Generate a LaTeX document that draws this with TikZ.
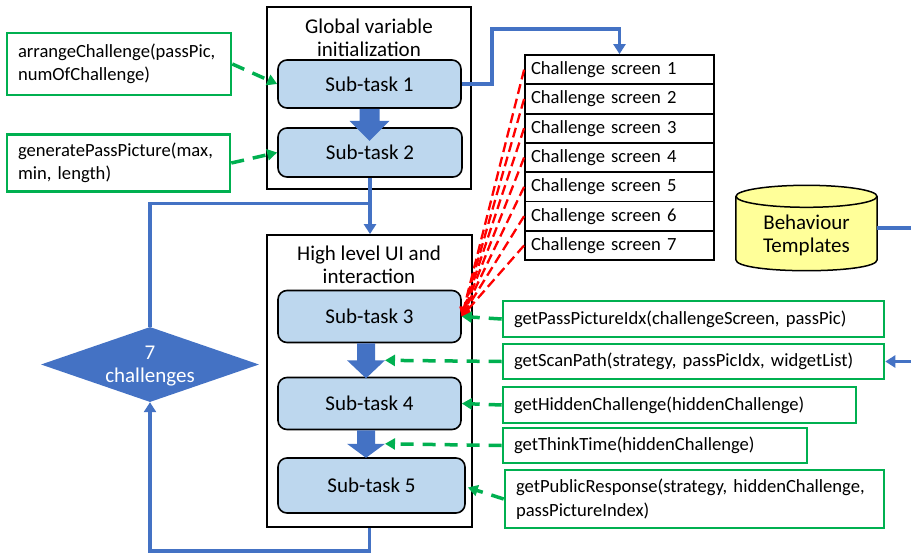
\documentclass[tikz,border=0pt]{standalone}
\usepackage{fontspec}
\setmainfont{Carlito}
\usetikzlibrary{arrows.meta,calc,shapes.geometric}
\definecolor{flowblue}{HTML}{4472C4}
\definecolor{taskfill}{HTML}{BDD7EE}
\definecolor{apigreen}{HTML}{00B050}
\definecolor{dbyellow}{HTML}{FFFF99}

\begin{document}
\begin{tikzpicture}[x=1pt,y=-1pt,
  big/.style={font=\fontsize{21}{23}\selectfont},
  small/.style={font=\fontsize{18.6}{23.5}\selectfont},
  group/.style={draw=black, line width=1.8pt, fill=white, inner sep=0pt},
  task/.style={draw=black, line width=1.6pt, fill=taskfill, rounded corners=9pt, big, inner sep=0pt},
  api/.style={draw=apigreen, line width=2.6pt, fill=white, small, align=left, inner xsep=11pt, inner ysep=0pt},
  screen/.style={draw=black, line width=1.8pt, small, minimum width=189pt, minimum height=29.3pt,
                 text width=177pt, inner xsep=6pt, inner ysep=0pt, align=left},
  flow/.style={draw=flowblue, line width=3.3pt},
  flowtip/.style={-{Triangle[width=12pt,length=10pt]}},
  call/.style={draw=apigreen, line width=3.5pt, dash pattern=on 13pt off 9pt, -{Triangle[width=11pt,length=10pt]}},
  link/.style={draw=red, line width=2.3pt, dash pattern=on 10pt off 5pt, -{Triangle[width=9pt,length=9pt]}},
  block/.style={fill=flowblue, draw=none},
]
\useasboundingbox (0,0) rectangle (911,552);

% group frames and their titles
\node[group, minimum width=204pt, minimum height=182pt] (glob) at (369,98) {};
\node[big, align=center] (globtitle) at (369,37.5) {Global variable\\initialization};
\node[group, minimum width=205pt, minimum height=292pt] (high) at (369.5,381) {};
\node[big, align=center] (hightitle) at (369,265) {High level UI and\\interaction};

% sub-tasks
\node[task, minimum width=183pt, minimum height=48pt] (s1) at (369.5,84) {Sub-task 1};
\node[task, minimum width=184pt, minimum height=49pt] (s2) at (370,152.5) {Sub-task 2};
\node[task, minimum width=183pt, minimum height=52pt] (s3) at (369.5,316.5) {Sub-task 3};
\node[task, minimum width=183pt, minimum height=52pt] (s4) at (369.5,403.5) {Sub-task 4};
\node[task, minimum width=187pt, minimum height=55pt] (s5) at (371.5,485.5) {Sub-task 5};

% block arrows between consecutive sub-tasks
\fill[block, shift={(s1.south)}] (-10,0) -- (-10,12) -- (-20,12) -- (0,32) -- (20,12) -- (10,12) -- (10,0) -- cycle;
\fill[block, shift={($(s3.south)+(-3.5,0)$)}] (-9,0) -- (-9,17) -- (-19,17) -- (0,35) -- (19,17) -- (9,17) -- (9,0) -- cycle;
\fill[block, shift={($(s4.south)+(-3.5,0)$)}] (-9,0) -- (-9,13.5) -- (-19,13.5) -- (0,27.5) -- (19,13.5) -- (9,13.5) -- (9,0) -- cycle;
\coordinate (h34) at ($(s3.south)+(15.5,17)$);
\coordinate (h45) at ($(s4.south)+(15.5,13.5)$);

% challenge screen list
\foreach \i in {1,...,7}
  \node[screen] (row\i) at (619.5,{55+29.3*(\i-0.5)}) {Challenge screen \i};

% decision diamond
\node[diamond, fill=flowblue, minimum width=218pt, minimum height=75pt, inner sep=0pt] (dia) at (150,364.5) {};
\node[big, text=white, align=center] (diatext) at (150,366) {7\\challenges};

% behaviour template store (cylinder)
\node[minimum width=141pt, minimum height=85pt, inner sep=0pt] (beh) at (806.5,228) {};
\fill[dbyellow] ($(beh.north west)+(0,11)$) -- ($(beh.south west)+(0,-11)$)
  .. controls ($(beh.south west)+(0,3.67)$) and ($(beh.south east)+(0,3.67)$) .. ($(beh.south east)+(0,-11)$)
  -- ($(beh.north east)+(0,11)$) -- cycle;
\draw[line width=1.5pt] ($(beh.north west)+(0,11)$) -- ($(beh.south west)+(0,-11)$)
  .. controls ($(beh.south west)+(0,3.67)$) and ($(beh.south east)+(0,3.67)$) .. ($(beh.south east)+(0,-11)$)
  -- ($(beh.north east)+(0,11)$);
\filldraw[fill=dbyellow, line width=1.5pt] ($(beh.north)+(0,11)$) ellipse [x radius=70.5, y radius=11];
\node[big, align=center] (behtext) at ($(beh.center)+(0,7)$) {Behaviour\\Templates};

% API call boxes
\node[api, minimum width=224pt, minimum height=62pt, text width=202pt] (arr) at (119,64) {arrangeChallenge(passPic,\\numOfChallenge)};
\node[api, minimum width=223pt, minimum height=57pt, text width=201pt] (gen) at (118.5,163) {generatePassPicture(max,\\min, length)};
\node[api, minimum width=381pt, minimum height=36pt, text width=359pt] (pic) at (693.5,319) {getPassPictureIdx(challengeScreen, passPic)};
\node[api, minimum width=381pt, minimum height=35pt, text width=359pt] (scan) at (693.5,361.5) {getScanPath(strategy, passPicIdx, widgetList)};
\node[api, minimum width=353pt, minimum height=36pt, text width=331pt] (hid) at (679.5,405) {getHiddenChallenge(hiddenChallenge)};
\node[api, minimum width=304pt, minimum height=35pt, text width=282pt] (think) at (655,445.5) {getThinkTime(hiddenChallenge)};
\node[api, minimum width=379pt, minimum height=58pt, text width=357pt] (pub) at (694.5,499) {getPublicResponse(strategy, hiddenChallenge,\\passPictureIndex)};

% control flow
\coordinate (bend) at (492,29);
\draw[flow, flowtip] (s1.east) -| (bend) -| (row1.north);
\draw[flow, flowtip] (s2.south) -- (s2.south |- high.north);
\coordinate (split) at ($(s2.south)+(0,26)$);
\draw[flow] (split) -| (dia.north);
\coordinate (loopbot) at ($(high.south)+(0,23)$);
\draw[flow, flowtip] (high.south) -- (loopbot) -| (dia.south);
\coordinate (edgeA) at (911,228);
\draw[flow] (beh.east) -- (edgeA);
\coordinate (edgeB) at (911,361.5);
\draw[flow, flowtip] (edgeB) -- (scan.east);

% screen lookups
\foreach \i in {1,...,7}
  \draw[link] (row\i.west) -- (s3.east);

% API calls into the sub-tasks
\draw[call] (arr.east) -- (s1.west);
\draw[call] (gen.east) -- (s2.west);
\draw[call] (pic.west) -- (s3.east);
\draw[call] (scan.west) -- (h34);
\draw[call] (hid.west) -- (s4.east);
\draw[call] (think.west) -- (h45);
\draw[call] (pub.west) -- ($(s5.east)+(2,2)$);
\end{tikzpicture}
\end{document}
